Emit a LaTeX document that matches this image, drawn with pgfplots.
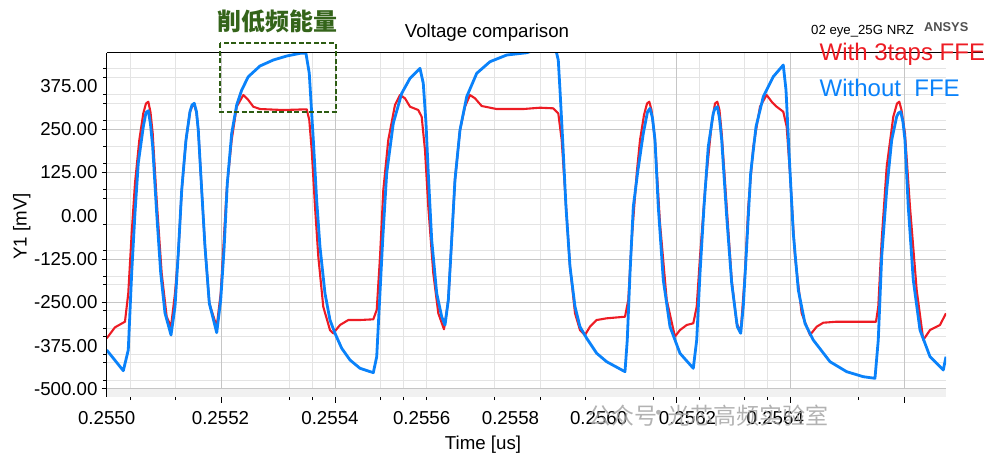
\documentclass[border=0pt]{standalone}
\usepackage{fontspec}
\setmainfont{Liberation Sans}
\newfontfamily\cjk{Noto Sans CJK SC}
\usepackage{pgfplots}
\pgfplotsset{compat=1.18}
\definecolor{cred}{RGB}{237,28,36}
\definecolor{cblue}{RGB}{10,130,250}
\definecolor{gdark}{RGB}{198,198,198}
\definecolor{glight}{RGB}{228,228,228}
\definecolor{bandc}{RGB}{241,241,241}
\definecolor{boxgreen}{RGB}{45,92,18}
\definecolor{titlegreen}{RGB}{52,100,26}
\definecolor{wm}{RGB}{165,165,165}
\definecolor{ansysgray}{RGB}{80,80,80}
% time in ps measured from 0.2550 us
\pgfplotstableread{
t v
-1.4 -387.7
27.8 -447.5
36.5 -387.7
42.5 -165.4
48.3 7.8
54.1 152.1
62.9 256.9
67.6 297.9
71.7 303.1
75.5 264.7
79.4 199.2
86.4 7.8
93.5 -165.4
101.0 -280.9
111.6 -344.4
118.6 -262.7
124.4 -107.7
130.4 74.2
137.9 218.5
144.9 300.2
148.5 319.6
152.5 324.5
156.4 299.4
159.5 247.4
165.5 74.2
171.3 -89.5
178.9 -252.9
191.9 -337.8
198.9 -243.4
204.7 -99.0
210.5 93.5
218.2 237.9
227.0 319.6
235.8 362.9
247.4 401.3
267.9 432.2
291.3 449.5
314.8 461.0
338.2 468.8
348.7 468.8
354.5 411.1
361.6 218.5
367.5 45.3
373.3 -89.5
382.1 -224.0
390.9 -301.1
399.7 -339.5
411.5 -382.8
426.1 -416.6
443.6 -440.5
467.0 -453.2
473.0 -407.0
477.5 -262.7
483.5 -70.1
490.5 122.4
502.1 266.7
516.9 353.3
531.5 396.6
549.0 425.5
554.8 382.2
559.6 266.7
563.6 122.4
569.6 -70.1
578.4 -224.0
587.2 -291.6
593.0 -315.5
598.8 -243.4
604.7 -70.1
610.5 103.1
619.3 247.4
631.1 343.5
648.7 411.1
672.0 444.6
701.4 463.9
736.5 470.5
759.9 482.7
783.6 485.6
788.9 470.5
792.0 449.5
795.0 362.9
799.7 218.5
805.5 26.0
812.6 -147.2
821.4 -262.7
830.1 -320.4
841.9 -353.9
859.5 -397.2
877.0 -421.5
909.2 -450.3
913.2 -358.8
918.0 -166.3
923.8 26.0
932.0 131.9
941.4 237.9
948.7 299.4
953.1 310.0
957.5 282.0
961.9 218.5
967.7 26.0
976.5 -185.6
988.3 -320.4
1005.8 -397.2
1029.2 -440.5
1035.2 -358.8
1041.0 -166.3
1048.0 26.0
1055.5 199.2
1064.3 295.6
1067.3 309.5
1071.4 314.7
1075.2 282.0
1079.1 218.5
1087.9 -2.9
1096.7 -195.1
1106.5 -320.4
1112.5 -339.5
1117.0 -262.7
1123.0 -89.5
1130.0 122.4
1139.4 256.9
1152.2 343.5
1169.7 401.3
1187.3 435.0
1192.1 362.9
1197.8 170.3
1204.9 -50.8
1213.7 -214.5
1225.4 -310.6
1240.0 -358.8
1269.4 -421.5
1298.7 -450.3
1327.9 -464.8
1348.4 -469.4
1354.2 -358.8
1360.2 -118.4
1369.0 74.2
1377.8 218.5
1386.5 285.8
1389.7 296.5
1393.6 300.2
1397.6 270.5
1401.1 218.5
1406.9 26.0
1415.7 -185.6
1427.5 -330.0
1445.1 -407.0
1468.4 -445.4
1473.2 -407.0
}\blue
\pgfplotstableread{
t v
-1.4 -353.9
13.2 -322.2
30.7 -306.0
36.5 -224.0
42.5 -50.8
48.3 93.5
55.9 218.5
62.9 295.6
67.6 323.9
71.7 329.1
75.5 299.4
79.4 237.9
86.4 45.3
95.2 -166.3
104.0 -291.6
111.6 -320.4
118.6 -224.0
124.4 -107.7
130.4 74.2
137.9 218.5
144.9 300.2
148.5 315.2
152.5 322.0
156.4 296.5
159.5 247.4
165.5 74.2
171.3 -89.5
178.9 -252.9
191.9 -320.4
198.9 -224.0
209.4 74.2
218.2 218.5
227.0 314.7
238.6 348.4
247.4 334.0
256.2 314.7
267.9 308.0
308.9 305.1
350.0 307.2
354.5 276.3
358.8 189.7
364.6 26.0
370.4 -118.4
379.1 -262.7
390.9 -330.0
396.7 -339.5
408.5 -315.5
423.1 -301.1
443.6 -301.1
467.0 -299.1
473.0 -272.2
478.8 -118.4
484.6 74.2
493.3 218.5
505.1 319.6
513.9 348.4
522.7 338.9
531.5 314.7
546.0 305.1
552.0 285.8
557.8 189.7
563.6 26.0
572.4 -166.3
581.2 -281.7
591.2 -327.9
598.8 -243.4
604.7 -70.1
610.5 103.1
619.3 247.4
628.1 314.7
636.9 348.4
645.7 338.9
657.4 316.7
683.8 308.0
730.5 308.0
759.9 311.8
783.2 310.0
792.0 295.6
798.0 218.5
803.8 74.2
812.6 -147.2
821.4 -281.7
830.1 -330.0
838.9 -344.4
847.7 -320.4
859.5 -301.1
877.0 -296.2
909.2 -291.6
915.0 -243.4
921.0 -70.1
929.8 122.4
935.6 218.5
942.6 290.7
947.9 323.9
951.9 329.1
955.8 305.1
961.9 218.5
970.7 -21.9
982.5 -243.4
997.0 -349.3
1005.8 -330.0
1017.6 -315.5
1029.2 -310.6
1035.2 -262.7
1041.0 -118.4
1049.8 74.2
1061.5 266.7
1067.3 323.9
1071.4 329.1
1075.2 305.1
1079.1 237.9
1087.9 26.0
1096.7 -185.6
1105.4 -310.6
1112.5 -334.9
1120.0 -166.3
1125.8 26.0
1134.6 199.2
1146.4 314.7
1158.1 348.4
1166.9 329.1
1175.7 314.7
1187.3 300.2
1193.3 256.9
1199.1 122.4
1207.9 -118.4
1219.6 -281.7
1234.2 -344.4
1246.0 -320.4
1257.6 -308.9
1281.1 -306.0
1327.9 -306.0
1350.2 -306.0
1354.2 -262.7
1360.2 -70.1
1369.0 141.5
1380.6 285.8
1387.1 323.9
1391.1 329.1
1395.0 305.1
1401.1 237.9
1409.9 26.0
1421.7 -214.5
1433.3 -358.8
1445.1 -330.0
1462.6 -315.5
1473.2 -281.7
}\red
\begin{document}
\begin{tikzpicture}[x=1pt,y=1pt]
\useasboundingbox (0,0) rectangle (1002,456);
\begin{axis}[
  at={(106.7pt,59.3pt)}, anchor=south west,
  scale only axis, width=839.3pt, height=344pt,
  xmin=-1.4, xmax=1473.2, ymin=-522.5, ymax=470.6,
  axis line style={draw=none},
  tick align=outside,
  xtick pos=bottom, ytick pos=left,
  major tick length=0pt,
  minor tick length=3.5pt,
  tick style={black, line width=1pt},
  xtick={-1.4,198.5,390.9,552.0,708.0,863.0,1019.0,1173.3},
  xticklabels={0.2550,0.2552,0.2554,0.2556,0.2558,0.2560,0.2562,0.2564},
  ytick={-500,-375,-250,-125,0,125,250,375},
  yticklabels={-500.00,-375.00,-250.00,-125.00,0.00,125.00,250.00,375.00},
  extra x ticks={200,400,1000,1200,1400},
  extra x tick labels={},
  extra x tick style={grid=major, major tick length=6pt},
  extra y ticks={-500,-250,-125,125,250},
  extra y tick labels={},
  extra y tick style={grid=major, major tick length=5pt},
  minor xtick={40,120,320,360,480,520,560,680,760,840,960,1040,1120,1160,1320},
  minor ytick={425,400,350,325,275,200,150,75,50,-25,-100,-175,-200,-275,-325,-350,-400,-425,-475},
  xminorgrids=true, yminorgrids=true,
  minor grid style={glight, line width=1pt},
  major grid style={gdark, line width=1pt},
  x tick label style={font=\fontsize{18.7}{20}\selectfont, inner sep=0pt, anchor=north, yshift=-15pt},
  y tick label style={font=\fontsize{18.7}{20}\selectfont, inner sep=0pt, anchor=east, xshift=-9pt},
]
\fill[bandc] (axis cs:-1.4,-522.5) rectangle (axis cs:1473.2,-501);
\addplot[cred, line width=2.1pt, line join=round] table[x=t,y=v] {\red};
\addplot[cblue, line width=2.8pt, line join=round] table[x=t,y=v] {\blue};
\end{axis}
\draw[black, line width=1pt] (106.7,59.3) -- (106.7,403.3);
\draw[black, line width=1pt] (106.7,403.3) -- (983,403.3);
\draw[boxgreen, line width=2pt, dash pattern=on 5pt off 2.5pt] (220,412.7) rectangle (336,344.3);
\node[font=\cjk\bfseries\fontsize{24}{24}\selectfont, text=titlegreen, inner sep=0pt] at (277.5,434.3) {削低频能量};
\node[font=\fontsize{18.7}{20}\selectfont, inner sep=0pt, anchor=base] at (487,418) {Voltage comparison};
\node[font=\fontsize{18.7}{20}\selectfont, inner sep=0pt, anchor=base] at (483,6.6) {Time [us]};
\node[font=\fontsize{18.7}{20}\selectfont, inner sep=0pt, anchor=base, rotate=90] at (26.7,229.5) {Y1 [mV]};
\node[font=\fontsize{13.2}{14}\selectfont, inner sep=0pt, anchor=base west] at (811,421.5) {02 eye\_25G NRZ};
\node[font=\bfseries\fontsize{12.8}{14}\selectfont, text=ansysgray, inner sep=0pt, anchor=base west] at (924,424.3) {ANSYS};
\node[font=\fontsize{24}{26}\selectfont, text=cred, inner sep=0pt, anchor=base west] at (819.5,395) {With 3taps FFE};
\node[font=\fontsize{24}{26}\selectfont, text=cblue, inner sep=0pt, anchor=base west] at (819.5,359) {Without\ \ FFE};
\node[font=\cjk\fontsize{23}{23}\selectfont, text=wm, opacity=0.85, inner sep=0pt, anchor=west] at (588,40.2) {公众号};
\node[font=\cjk\fontsize{23}{23}\selectfont, text=wm, opacity=0.85, inner sep=0pt] at (659,40.2) {·};
\node[font=\cjk\fontsize{23}{23}\selectfont, text=wm, opacity=0.85, inner sep=0pt, anchor=west] at (667,40.2) {光芯高频实验室};
\end{tikzpicture}
\end{document}
